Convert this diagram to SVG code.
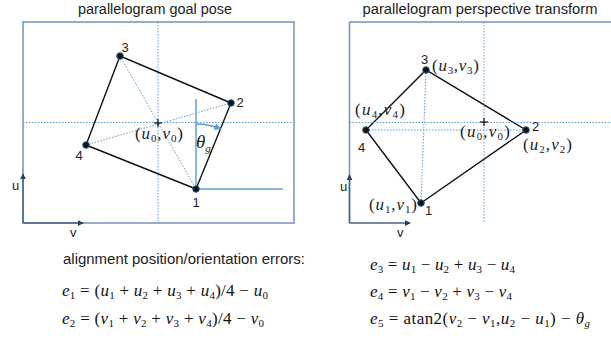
<svg xmlns="http://www.w3.org/2000/svg" width="611" height="338" viewBox="0 0 611 338">
<defs>
<style>
.frame{fill:none;stroke:#7094bd;stroke-width:1.5}
.axis{fill:none;stroke:#46648a;stroke-width:1.5}
.dot{fill:none;stroke:#5b9bd5;stroke-width:1;stroke-dasharray:1.5 1.5}
.edge{fill:none;stroke:#111;stroke-width:1.4}
.blue{fill:none;stroke:#5b9bd5;stroke-width:1.4}
.pt{fill:#111;stroke:#2e5d8e;stroke-width:1}
.sans{font-family:"Liberation Sans",Arial,sans-serif;fill:#222}
.t{font-size:14px}
.n{font-size:13px}
.m{font-family:"Liberation Serif","Times New Roman",serif;font-size:17px;fill:#111}
.lab{font-family:"Liberation Serif","Times New Roman",serif;font-size:17px;fill:#222}
.i{font-style:italic}
.s{font-size:11px}
.plus{stroke:#111;stroke-width:1.2}
</style>
<marker id="ah" viewBox="0 0 8 8" refX="7" refY="4" markerWidth="6" markerHeight="6" orient="auto" markerUnits="userSpaceOnUse">
<path d="M0,0 L8,4 L0,8 z" fill="#2b3f55"/>
</marker>
<marker id="bh" viewBox="0 0 8 8" refX="7" refY="4" markerWidth="7" markerHeight="7" orient="auto" markerUnits="userSpaceOnUse">
<path d="M0,0 L8,4 L0,8 z" fill="#5b9bd5"/>
</marker>
</defs>

<!-- Left panel -->
<g id="left-panel">
<text class="sans t" x="155" y="14" text-anchor="middle" textLength="154" lengthAdjust="spacingAndGlyphs">parallelogram goal pose</text>
<rect class="frame" x="23" y="22" width="271" height="201"/>
<line class="dot" x1="158" y1="22" x2="158" y2="223"/>
<line class="dot" x1="23" y1="122.5" x2="294" y2="122.5"/>
</g>

<g id="left-axes">
<line class="axis" x1="23" y1="223" x2="23" y2="174" marker-end="url(#ah)"/>
<line class="axis" x1="23" y1="223" x2="83" y2="223" marker-end="url(#ah)"/>
<text class="sans n" x="12" y="190">u</text>
<text class="sans n" x="70" y="237">v</text>
</g>

<g id="connectors">
<line class="dot" x1="120" y1="56" x2="196" y2="189"/>
<line class="dot" x1="86" y1="145" x2="231" y2="103"/>
<path class="edge" d="M196,189 L231,103 L120,56 L86,145 Z"/>
<line class="blue" x1="196" y1="99" x2="196" y2="189"/>
<line class="blue" x1="196" y1="189" x2="283" y2="189"/>
<path class="blue" d="M196,124 A65,65 0 0 1 220.5,128.8" marker-end="url(#bh)"/>

<line class="dot" x1="426" y1="70" x2="421" y2="203"/>
<line class="dot" x1="366" y1="130" x2="526" y2="130"/>
<path class="edge" d="M421,203 L526,130 L426,70 L366,130 Z"/>
</g>

<g id="left-center">
<line class="plus" x1="154" y1="123" x2="162" y2="123"/>
<line class="plus" x1="158" y1="119" x2="158" y2="127"/>
<text class="lab" x="135" y="139" textLength="48" lengthAdjust="spacing"><tspan>(</tspan><tspan class="i">u</tspan><tspan class="s" dy="3">0</tspan><tspan dy="-3">,</tspan><tspan class="i">v</tspan><tspan class="s" dy="3">0</tspan><tspan dy="-3">)</tspan></text>
<text class="lab" x="196" y="148"><tspan class="i" font-size="19">θ</tspan><tspan class="i s" dy="4">g</tspan></text>
</g>

<g id="L1"><circle class="pt" cx="196" cy="189" r="3.3"/><text class="sans n" x="192.5" y="207">1</text></g>
<g id="L2"><circle class="pt" cx="231" cy="103" r="3.3"/><text class="sans n" x="236.5" y="107">2</text></g>
<g id="L3"><circle class="pt" cx="120" cy="56" r="3.3"/><text class="sans n" x="121.5" y="52">3</text></g>
<g id="L4"><circle class="pt" cx="86" cy="145" r="3.3"/><text class="sans n" x="75.5" y="160">4</text></g>

<!-- Right panel -->
<g id="right-panel">
<text class="sans t" x="480" y="14" text-anchor="middle" textLength="235" lengthAdjust="spacingAndGlyphs">parallelogram perspective transform</text>
<line class="frame" x1="349.5" y1="22" x2="611" y2="22"/>
<line class="frame" x1="349.5" y1="22" x2="349.5" y2="223"/>
<line class="dot" x1="484" y1="22" x2="484" y2="223"/>
<line class="dot" x1="349.5" y1="122.5" x2="611" y2="122.5"/>
</g>

<g id="right-axes">
<line class="axis" x1="349.5" y1="223" x2="349.5" y2="175" marker-end="url(#ah)"/>
<line class="axis" x1="349.5" y1="223" x2="410" y2="223" marker-end="url(#ah)"/>
<text class="sans n" x="340" y="191">u</text>
<text class="sans n" x="397" y="237">v</text>
</g>

<g id="right-center">
<line class="plus" x1="480" y1="122" x2="488" y2="122"/>
<line class="plus" x1="484" y1="118" x2="484" y2="126"/>
<text class="lab" x="460" y="137" textLength="50" lengthAdjust="spacing"><tspan>(</tspan><tspan class="i">u</tspan><tspan class="s" dy="3">0</tspan><tspan dy="-3">,</tspan><tspan class="i">v</tspan><tspan class="s" dy="3">0</tspan><tspan dy="-3">)</tspan></text>
</g>

<g id="R1"><circle class="pt" cx="421" cy="203" r="3.3"/><text class="sans n" x="425" y="215">1</text>
<text class="lab" x="369" y="210" textLength="48" lengthAdjust="spacing"><tspan>(</tspan><tspan class="i">u</tspan><tspan class="s" dy="3">1</tspan><tspan dy="-3">,</tspan><tspan class="i">v</tspan><tspan class="s" dy="3">1</tspan><tspan dy="-3">)</tspan></text></g>
<g id="R2"><circle class="pt" cx="526" cy="130" r="3.3"/><text class="sans n" x="532" y="131">2</text>
<text class="lab" x="523" y="150" textLength="49" lengthAdjust="spacing"><tspan>(</tspan><tspan class="i">u</tspan><tspan class="s" dy="3">2</tspan><tspan dy="-3">,</tspan><tspan class="i">v</tspan><tspan class="s" dy="3">2</tspan><tspan dy="-3">)</tspan></text></g>
<g id="R3"><circle class="pt" cx="426" cy="70" r="3.3"/><text class="sans n" x="421" y="64">3</text>
<text class="lab" x="432" y="71" textLength="47" lengthAdjust="spacing"><tspan>(</tspan><tspan class="i">u</tspan><tspan class="s" dy="3">3</tspan><tspan dy="-3">,</tspan><tspan class="i">v</tspan><tspan class="s" dy="3">3</tspan><tspan dy="-3">)</tspan></text></g>
<g id="R4"><circle class="pt" cx="366" cy="130" r="3.3"/><text class="sans n" x="358" y="152">4</text>
<text class="lab" x="355" y="115" textLength="50" lengthAdjust="spacing"><tspan>(</tspan><tspan class="i">u</tspan><tspan class="s" dy="3">4</tspan><tspan dy="-3">,</tspan><tspan class="i">v</tspan><tspan class="s" dy="3">4</tspan><tspan dy="-3">)</tspan></text></g>

<!-- Equations -->
<g id="equations">
<text class="sans t" x="63" y="264" textLength="242" lengthAdjust="spacingAndGlyphs">alignment position/orientation errors:</text>
<text class="m" x="62" y="296" textLength="206" lengthAdjust="spacing"><tspan class="i">e</tspan><tspan class="s" dy="3">1</tspan><tspan dy="-3"> = (</tspan><tspan class="i">u</tspan><tspan class="s" dy="3">1</tspan><tspan dy="-3"> + </tspan><tspan class="i">u</tspan><tspan class="s" dy="3">2</tspan><tspan dy="-3"> + </tspan><tspan class="i">u</tspan><tspan class="s" dy="3">3</tspan><tspan dy="-3"> + </tspan><tspan class="i">u</tspan><tspan class="s" dy="3">4</tspan><tspan dy="-3">)/4 − </tspan><tspan class="i">u</tspan><tspan class="s" dy="3">0</tspan></text>
<text class="m" x="62" y="324" textLength="202" lengthAdjust="spacing"><tspan class="i">e</tspan><tspan class="s" dy="3">2</tspan><tspan dy="-3"> = (</tspan><tspan class="i">v</tspan><tspan class="s" dy="3">1</tspan><tspan dy="-3"> + </tspan><tspan class="i">v</tspan><tspan class="s" dy="3">2</tspan><tspan dy="-3"> + </tspan><tspan class="i">v</tspan><tspan class="s" dy="3">3</tspan><tspan dy="-3"> + </tspan><tspan class="i">v</tspan><tspan class="s" dy="3">4</tspan><tspan dy="-3">)/4 − </tspan><tspan class="i">v</tspan><tspan class="s" dy="3">0</tspan></text>
<text class="m" x="370" y="270" textLength="145" lengthAdjust="spacing"><tspan class="i">e</tspan><tspan class="s" dy="3">3</tspan><tspan dy="-3"> = </tspan><tspan class="i">u</tspan><tspan class="s" dy="3">1</tspan><tspan dy="-3"> − </tspan><tspan class="i">u</tspan><tspan class="s" dy="3">2</tspan><tspan dy="-3"> + </tspan><tspan class="i">u</tspan><tspan class="s" dy="3">3</tspan><tspan dy="-3"> − </tspan><tspan class="i">u</tspan><tspan class="s" dy="3">4</tspan></text>
<text class="m" x="370" y="297" textLength="142" lengthAdjust="spacing"><tspan class="i">e</tspan><tspan class="s" dy="3">4</tspan><tspan dy="-3"> = </tspan><tspan class="i">v</tspan><tspan class="s" dy="3">1</tspan><tspan dy="-3"> − </tspan><tspan class="i">v</tspan><tspan class="s" dy="3">2</tspan><tspan dy="-3"> + </tspan><tspan class="i">v</tspan><tspan class="s" dy="3">3</tspan><tspan dy="-3"> − </tspan><tspan class="i">v</tspan><tspan class="s" dy="3">4</tspan></text>
<text class="m" x="370" y="324" textLength="220" lengthAdjust="spacing"><tspan class="i">e</tspan><tspan class="s" dy="3">5</tspan><tspan dy="-3"> = atan2(</tspan><tspan class="i">v</tspan><tspan class="s" dy="3">2</tspan><tspan dy="-3"> − </tspan><tspan class="i">v</tspan><tspan class="s" dy="3">1</tspan><tspan dy="-3">,</tspan><tspan class="i">u</tspan><tspan class="s" dy="3">2</tspan><tspan dy="-3"> − </tspan><tspan class="i">u</tspan><tspan class="s" dy="3">1</tspan><tspan dy="-3">) − </tspan><tspan class="i">θ</tspan><tspan class="i s" dy="3">g</tspan></text>
</g>
</svg>
